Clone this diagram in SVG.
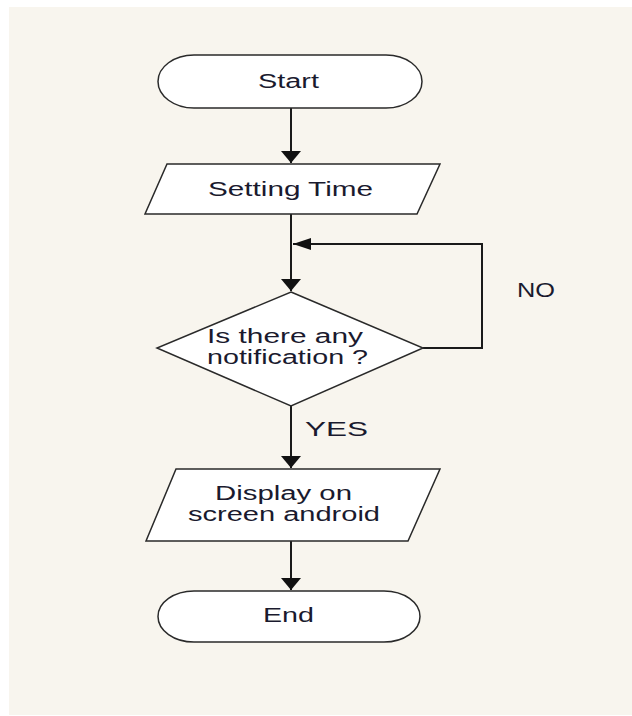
<svg xmlns="http://www.w3.org/2000/svg" width="632" height="716" viewBox="0 0 632 716">
<defs>
<style>
.shape{fill:#ffffff;stroke:#2a2a2a;stroke-width:1.5}
.conn{fill:none;stroke:#1a1a1a;stroke-width:2}
.lbl{font-family:"Liberation Sans",Arial,sans-serif;font-size:20px;fill:#1a1a2e}
</style>
<marker id="ad" markerUnits="userSpaceOnUse" markerWidth="20" markerHeight="12" viewBox="0 0 20 12" refX="10" refY="12" orient="0">
<path d="M0,0 L20,0 L10,12 z" fill="#111"/>
</marker>
<marker id="al" markerUnits="userSpaceOnUse" markerWidth="18" markerHeight="12" viewBox="0 0 18 12" refX="0" refY="6" orient="0">
<path d="M0,6 L18,0 L18,12 z" fill="#111"/>
</marker>
</defs>
<rect x="0" y="0" width="632" height="716" fill="#ffffff"/>
<rect x="9" y="7" width="623" height="708" fill="#f8f5ee"/>
<g id="connectors">
<path class="conn" d="M291,108 V163" marker-end="url(#ad)"/>
<path class="conn" d="M291,214 V291" marker-end="url(#ad)"/>
<path class="conn" d="M423,348 H482 V244 H293" marker-end="url(#al)"/>
<path class="conn" d="M291,406 V468" marker-end="url(#ad)"/>
<path class="conn" d="M291,541 V590" marker-end="url(#ad)"/>
</g>
<g id="start">
<rect class="shape" x="158" y="55" width="264" height="53" rx="36" ry="26.5"/>
<text class="lbl" x="258" y="88" textLength="61" lengthAdjust="spacingAndGlyphs">Start</text>
</g>
<g id="setting-time">
<polygon class="shape" points="167,164 440,164 417,214 145,214"/>
<text class="lbl" x="208" y="196" textLength="165" lengthAdjust="spacingAndGlyphs">Setting Time</text>
</g>
<g id="decision">
<polygon class="shape" points="291,292 423,348 291,406 157,348"/>
<text class="lbl" x="207" y="343" textLength="156" lengthAdjust="spacingAndGlyphs">Is there any</text>
<text class="lbl" x="207" y="364" textLength="161" lengthAdjust="spacingAndGlyphs">notification ?</text>
</g>
<g id="labels">
<text class="lbl" x="305" y="436" textLength="63" lengthAdjust="spacingAndGlyphs">YES</text>
<text class="lbl" x="517" y="297" textLength="38" lengthAdjust="spacingAndGlyphs">NO</text>
</g>
<g id="display">
<polygon class="shape" points="176,469 440,469 408,541 146,541"/>
<text class="lbl" x="215" y="500" textLength="137" lengthAdjust="spacingAndGlyphs">Display on</text>
<text class="lbl" x="188" y="521" textLength="192" lengthAdjust="spacingAndGlyphs">screen android</text>
</g>
<g id="end">
<rect class="shape" x="158" y="591" width="262" height="51" rx="36" ry="25.5"/>
<text class="lbl" x="263" y="622" textLength="51" lengthAdjust="spacingAndGlyphs">End</text>
</g>
</svg>
